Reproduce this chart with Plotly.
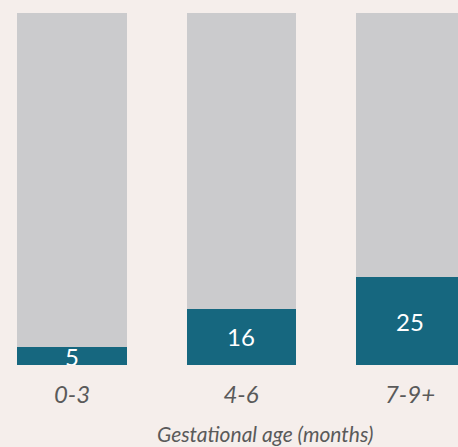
import plotly.graph_objects as go

# Share of pregnancies by gestational age band (percent)
age_bands = ["0-3", "4-6", "7-9+"]
share = [5, 16, 25]
total = [100, 100, 100]
remainder = [t - s for t, s in zip(total, share)]

BG = "#f5eeeb"
TEAL = "#16677f"
GREY = "#cbcbcd"
TEXT = "#5a5a5a"
FONT = "Lato, 'Open Sans', sans-serif"

fig = go.Figure()
fig.add_trace(go.Bar(
    x=age_bands, y=share, marker=dict(color=TEAL, line=dict(width=0)),
    text=[str(v) for v in share], textposition="inside",
    insidetextanchor="middle", textangle=0,
    textfont=dict(family=FONT, size=24, color="white"),
    hoverinfo="skip",
))
fig.add_trace(go.Bar(
    x=age_bands, y=remainder, marker=dict(color=GREY, line=dict(width=0)),
    hoverinfo="skip",
))

fig.update_layout(
    width=458, height=447,
    barmode="stack", bargap=0.355,
    showlegend=False,
    paper_bgcolor=BG, plot_bgcolor=BG,
    margin=dict(l=0, r=0, t=13, b=82),
    uniformtext=dict(minsize=24, mode="show"),
    xaxis=dict(
        range=[-0.426, 2.284], showgrid=False, zeroline=False, showline=False,
        ticks="", ticklabelstandoff=13,
        tickfont=dict(family=FONT, size=24, color=TEXT, style="italic"),
    ),
    yaxis=dict(range=[0, 100], visible=False),
    annotations=[dict(
        text="Gestational age (months)", xref="paper", yref="paper",
        x=0.579, y=0, yshift=-68, xanchor="center", yanchor="middle",
        showarrow=False,
        font=dict(family=FONT, size=21, color=TEXT, style="italic"),
    )],
)

fig.write_html("out.html")
